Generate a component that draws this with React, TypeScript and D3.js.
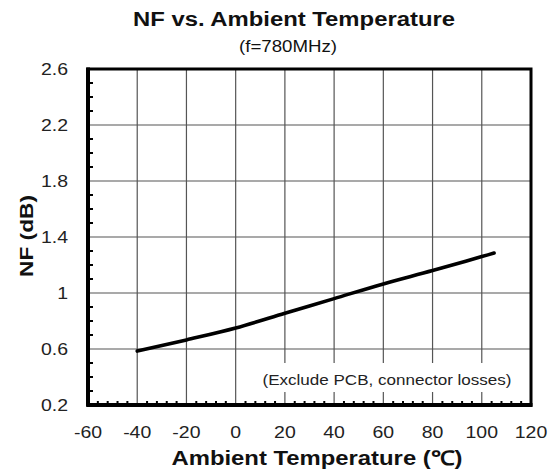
import * as d3 from 'd3';

const temps = [-40, -20, 0, 20, 40, 60, 80, 100, 105];
const nfValues = [0.585, 0.665, 0.75, 0.855, 0.96, 1.065, 1.16, 1.26, 1.285];
const xTicks = [-60, -40, -20, 0, 20, 40, 60, 80, 100, 120];
const yTicks = [0.2, 0.6, 1.0, 1.4, 1.8, 2.2, 2.6];
const yTickLabels = ['0.2', '0.6', '1', '1.4', '1.8', '2.2', '2.6'];

// rough Arial advance widths (em) for tick label text, used to stretch the labels like the source
function labelWidth(s: string, size: number) {
  let w = 0;
  for (const c of s) w += c === '-' ? 0.333 : c === '.' ? 0.278 : 0.556;
  return w * size * 1.18;
}

export default function App() {
  const width = 556;
  const height = 473;
  const margin = { top: 69, right: 25, bottom: 68, left: 88 };
  const innerW = width - margin.left - margin.right;
  const innerH = height - margin.top - margin.bottom;

  const x = d3.scaleLinear().domain([-60, 120]).range([0, innerW]);
  const y = d3.scaleLinear().domain([0.2, 2.6]).range([innerH, 0]);

  const line = d3.line<number>()
    .x((_, i) => x(temps[i]))
    .y(d => y(d))
    .curve(d3.curveMonotoneX);

  const xMinor = d3.range(-60, 120.01, 4).filter(v => !xTicks.includes(v));
  const yMinor = d3.range(2, 26.01, 1).map(v => v / 10).filter(v => !yTicks.some(t => Math.abs(t - v) < 1e-6));

  const font = 'Liberation Sans, Arial, sans-serif';
  const tickSize = 16.5;

  return (
    <div style={{ position: 'absolute', left: 0, top: 0 }}>
      <svg width={width} height={height} style={{ display: 'block', background: '#fff' }}>
        <text x={294} y={26} textAnchor="middle" fontFamily={font} fontWeight="bold" fontSize={20} fill="#111"
          textLength={322} lengthAdjust="spacingAndGlyphs">
          NF vs. Ambient  Temperature
        </text>
        <text x={288} y={52} textAnchor="middle" fontFamily={font} fontSize={16.5} fill="#111" textLength={98} lengthAdjust="spacingAndGlyphs">
          (f=780MHz)
        </text>
        <g transform={`translate(${margin.left},${margin.top})`}>
          {xTicks.slice(1, -1).map(t => (
            <line key={'gx' + t} x1={x(t)} x2={x(t)} y1={0} y2={innerH} stroke="#555" strokeWidth={1.2} />
          ))}
          {yTicks.slice(1, -1).map(t => (
            <line key={'gy' + t} x1={0} x2={innerW} y1={y(t)} y2={y(t)} stroke="#555" strokeWidth={1.2} />
          ))}
          {xMinor.map(t => (
            <line key={'mx' + t} x1={x(t)} x2={x(t)} y1={innerH} y2={innerH - 4} stroke="#000" strokeWidth={2} />
          ))}
          {yMinor.map(t => (
            <line key={'my' + t} x1={0} x2={5} y1={y(t)} y2={y(t)} stroke="#000" strokeWidth={2} />
          ))}
          <rect x={164} y={294} width={274} height={29} fill="#fff" />
          <text x={299} y={316} textAnchor="middle" fontFamily={font} fontSize={14} fill="#222"
            textLength={249} lengthAdjust="spacingAndGlyphs">
            (Exclude PCB, connector losses)
          </text>
          <path d={line(nfValues) ?? ''} fill="none" stroke="#000" strokeWidth={3.6} strokeLinecap="round" />
          <rect x={0} y={0} width={innerW} height={innerH} fill="none" stroke="#000" strokeWidth={3} />
          <line x1={0} x2={0} y1={-1.5} y2={innerH + 1.5} stroke="#000" strokeWidth={4} />
          <line x1={-1.5} x2={innerW + 1.5} y1={innerH} y2={innerH} stroke="#000" strokeWidth={4} />
          {xTicks.map(t => (
            <text key={'xl' + t} x={x(t)} y={innerH + 33} textAnchor="middle" fontFamily={font} fontSize={tickSize} fill="#222"
              textLength={labelWidth(String(t), tickSize)} lengthAdjust="spacingAndGlyphs">
              {t}
            </text>
          ))}
          {yTicks.map((t, i) => (
            <text key={'yl' + t} x={-20} y={y(t) + 6} textAnchor="end" fontFamily={font} fontSize={tickSize} fill="#222"
              textLength={labelWidth(yTickLabels[i], tickSize)} lengthAdjust="spacingAndGlyphs">
              {yTickLabels[i]}
            </text>
          ))}
        </g>
        <text x={317} y={465} textAnchor="middle" fontFamily={font} fontWeight="bold" fontSize={20} fill="#111"
          textLength={291} lengthAdjust="spacingAndGlyphs">
          Ambient Temperature (℃)
        </text>
        <text transform="translate(33,236) rotate(-90)" textAnchor="middle" fontFamily={font} fontWeight="bold" fontSize={19} fill="#111"
          textLength={82} lengthAdjust="spacingAndGlyphs">
          NF (dB)
        </text>
      </svg>
    </div>
  );
}
